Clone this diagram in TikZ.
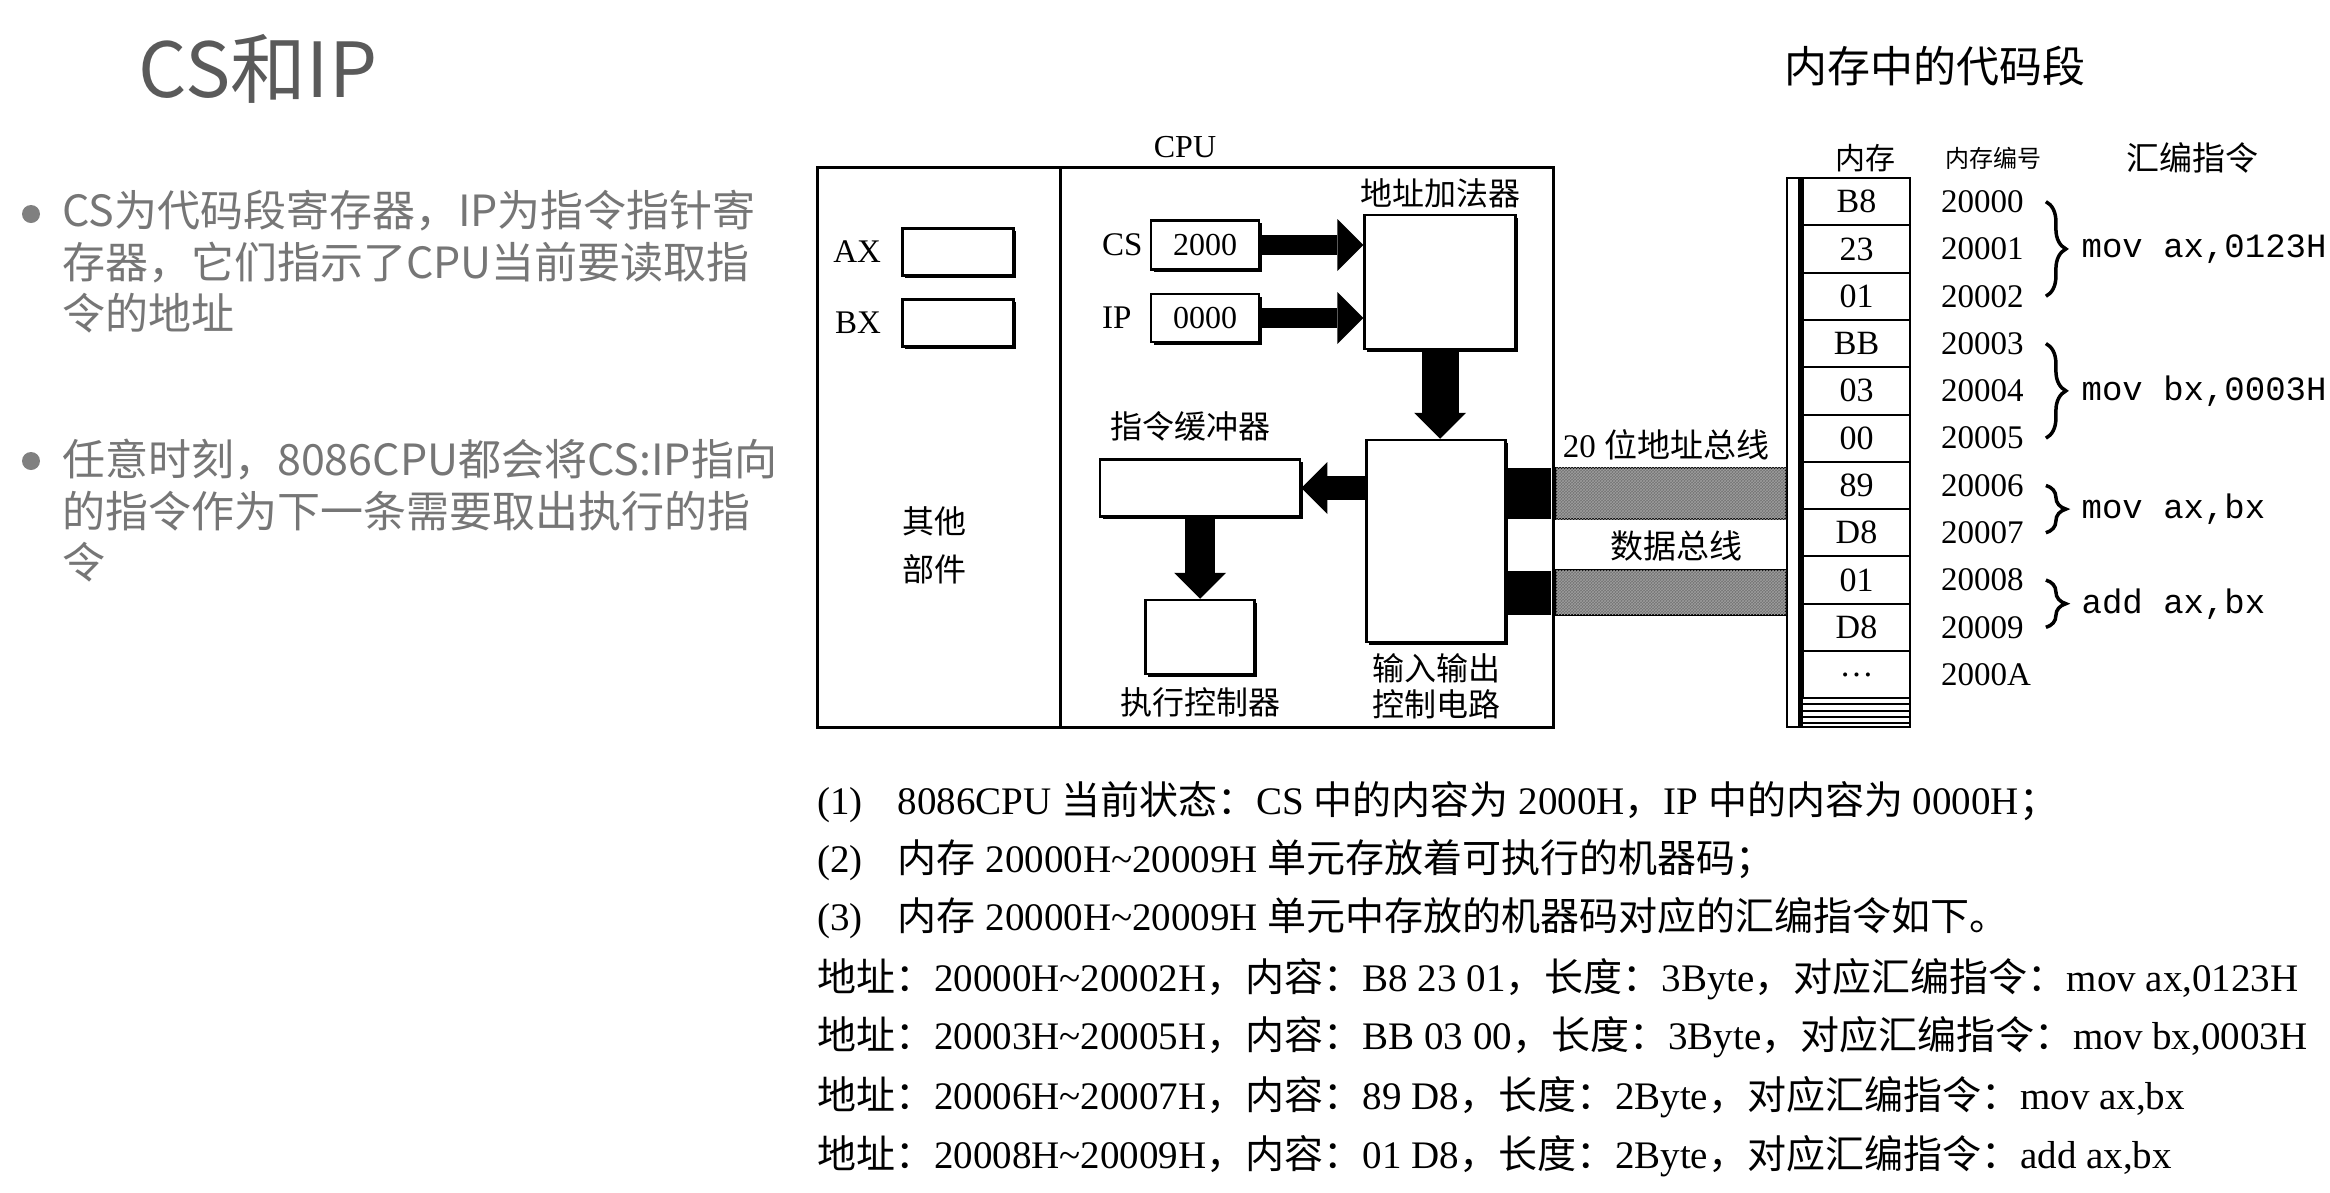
\documentclass[tikz,border=0pt]{standalone}
\usepackage{fontspec}
\setmainfont{Liberation Serif}
\newfontfamily\cjk{Noto Sans CJK SC}
\newfontfamily\codefont{Liberation Mono}
\usetikzlibrary{positioning,arrows.meta,decorations.pathreplacing,patterns,shadows}

\newcommand{\zh}[1]{{\cjk #1}}

\definecolor{titlegray}{RGB}{90,90,90}
\definecolor{bodygray}{RGB}{118,118,118}
\definecolor{dotgray}{RGB}{128,128,128}

\tikzset{
	lbl/.style={inner sep=0, font=\fontsize{33}{33}\selectfont},
	zhlbl/.style={inner sep=0, font=\cjk\fontsize{32}{36}\selectfont},
	regbox/.style={draw, line width=2.5pt, fill=white, inner sep=0, font=\fontsize{32}{32}\selectfont,
		drop shadow={shadow xshift=2.5pt, shadow yshift=-2.5pt, fill=black, opacity=1}},
	fatarrow/.style={line width=20pt, -{Triangle[length=26pt,width=52pt,line width=0pt]}},
	port/.style={fill=black, inner sep=0, minimum width=44pt},
	bus/.style={draw, line width=2pt, fill=black!55, postaction={pattern=crosshatch, pattern color=black!38}},
	memcell/.style={draw, line width=2pt, inner sep=0, minimum width=107pt, minimum height=47.3pt, font=\fontsize{34}{34}\selectfont},
	addr/.style={inner sep=0, font=\fontsize{33}{33}\selectfont},
	brc/.style={decorate, decoration={brace, amplitude=20pt}, line width=3.5pt},
	asm/.style={inner sep=0, font=\codefont\fontsize{34}{34}\selectfont},
	bulletdot/.style={circle, fill=dotgray, minimum size=18pt, inner sep=0},
	note/.style={anchor=north west, align=left, inner sep=0, text=bodygray, font=\cjk\fontsize{43}{51.5}\selectfont},
	txt/.style={anchor=west, inner sep=0, font=\fontsize{39}{39}\selectfont}
}

\begin{document}
\begin{tikzpicture}[x=1pt,y=-1pt]
	\useasboundingbox (0,0) rectangle (2330,1192);
	\fill[white] (0,0) rectangle (2330,1192);

	% Slide title and notes
	\node[inner sep=0, text=titlegray, font=\cjk\fontsize{76}{76}\selectfont] (title) at (258,69) {CS和IP};
	\node[bulletdot] (dot1) at (31,214) {};
	\node[note] (note1) at (62,190) {CS为代码段寄存器，IP为指令指针寄\\存器，它们指示了CPU当前要读取指\\令的地址};
	\node[bulletdot] (dot2) at (31,461) {};
	\node[note] (note2) at (62,439) {任意时刻，8086CPU都会将CS:IP指向\\的指令作为下一条需要取出执行的指\\令};

	% CPU frame
	\node[draw, line width=3pt, inner sep=0, minimum width=736pt, minimum height=560pt] (cpu) at (1185,447) {};
	\draw[line width=3pt] (1060,167) -- (1060,727);
	\node[lbl, above=7pt of cpu, font=\fontsize{32}{32}\selectfont] (cpulbl) {CPU};

	% General registers
	\node[regbox, minimum width=111pt, minimum height=47pt] (ax) at (958,252) {};
	\node[lbl, left=20pt of ax] (axlbl) {AX};
	\node[regbox, minimum width=111pt, minimum height=47pt] (bx) at (958,323) {};
	\node[lbl, left=20pt of bx] (bxlbl) {BX};
	\node[zhlbl, align=center, font=\cjk\fontsize{32}{48}\selectfont] (other) at (934,545) {其他\\部件};

	% Segment and pointer registers
	\node[regbox, minimum width=108pt, minimum height=49pt] (cs) at (1205,245) {2000};
	\node[lbl, anchor=west] (cslbl) at (1102,245) {CS};
	\node[regbox, minimum width=108pt, minimum height=48pt] (ip) at (1205,318) {0000};
	\node[lbl, anchor=west] (iplbl) at (1102,318) {IP};

	% Units
	\node[regbox, minimum width=151pt, minimum height=134pt] (adder) at (1440,282) {};
	\node[zhlbl, above=5pt of adder] (adderlbl) {地址加法器};
	\node[regbox, minimum width=139pt, minimum height=202pt] (io) at (1436,541) {};
	\node[zhlbl, below=10pt of io, align=center] (iolbl) {输入输出\\控制电路};
	\node[regbox, minimum width=200pt, minimum height=57pt] (buf) at (1200,488) {};
	\node[zhlbl] (buflbl) at (1190,426) {指令缓冲器};
	\node[regbox, minimum width=109pt, minimum height=74pt] (exec) at (1200,637) {};
	\node[zhlbl, below=12pt of exec] (execlbl) {执行控制器};

	% Data paths
	\draw[fatarrow] (cs.east) -- (adder.west |- cs.east);
	\draw[fatarrow] (ip.east) -- (adder.west |- ip.east);
	\draw[fatarrow, line width=37pt] (adder.south) -- (adder.south |- io.north);
	\draw[fatarrow, line width=24pt] (io.west |- buf.east) -- (buf.east);
	\draw[fatarrow, line width=30pt] (buf.south) -- (exec.north);

	% Memory column
	\node[draw, line width=2pt, inner sep=0, minimum width=123pt, minimum height=549pt] (mem) at (1848.5,452.5) {};
	\draw[line width=5pt] (1800.5,178) -- (1800.5,727);
	\foreach \v [count=\i] in {B8,23,01,BB,03,00,89,D8,01,D8,\dots}
		\node[memcell] (m\i) at (1856.5,{178+47.3*(\i-0.5)}) {\v};
	\foreach \y in {704,711,717,723}
		\draw[line width=1.5pt] (1803,\y) -- (1910,\y);
	\foreach \a [count=\i] in {20000,20001,20002,20003,20004,20005,20006,20007,20008,20009,2000A}
		\node[addr, right=30pt of m\i] (a\i) {\a};

	% Buses
	\node[port, minimum height=51pt] (aport) at (1529,493.5) {};
	\node[port, minimum height=44pt] (dport) at (1529,592.5) {};
	\draw[bus] ([xshift=1.5pt]cpu.east |- aport.north) rectangle (mem.west |- aport.south);
	\draw[bus] ([xshift=1.5pt]cpu.east |- dport.north) rectangle (mem.west |- dport.south);
	\node[lbl] (abuslbl) at (1666,445) {20 \zh{位地址总线}};
	\node[zhlbl, font=\cjk\fontsize{33}{33}\selectfont] (dbuslbl) at (1676,546) {数据总线};

	% Headers
	\node[inner sep=0, font=\cjk\fontsize{43}{43}\selectfont] (segtitle) at (1935,66) {内存中的代码段};
	\node[zhlbl, font=\cjk\fontsize{30}{30}\selectfont] (memhd) at (1865,158) {内存};
	\node[zhlbl, font=\cjk\fontsize{24}{24}\selectfont] (addrhd) at (1993,158) {内存编号};
	\node[zhlbl, font=\cjk\fontsize{33}{33}\selectfont] (asmhd) at (2192,158) {汇编指令};

	% Instructions
	\draw[brc] ([xshift=22pt]a1.east) -- ([xshift=22pt]a3.east) node[asm, midway, right=34pt] (i1) {mov ax,0123H};
	\draw[brc] ([xshift=22pt]a4.east) -- ([xshift=22pt]a6.east) node[asm, midway, right=34pt] (i2) {mov bx,0003H};
	\draw[brc] ([xshift=22pt]a7.east) -- ([xshift=22pt]a8.east) node[asm, midway, right=34pt] (i3) {mov ax,bx};
	\draw[brc] ([xshift=22pt]a9.east) -- ([xshift=22pt]a10.east) node[asm, midway, right=34pt] (i4) {add ax,bx};

	% Explanation
	\node[txt] (l1) at (817,802) {(1)\hspace{0.9em}8086CPU \zh{当前状态：}CS \zh{中的内容为} 2000H\zh{，}IP \zh{中的内容为} 0000H\zh{；}};
	\node[txt] (l2) at (817,860) {(2)\hspace{0.9em}\zh{内存} 20000H\textasciitilde 20009H \zh{单元存放着可执行的机器码；}};
	\node[txt] (l3) at (817,918) {(3)\hspace{0.9em}\zh{内存} 20000H\textasciitilde 20009H \zh{单元中存放的机器码对应的汇编指令如下。}};
	\node[txt] (l4) at (817,979) {\zh{地址：}20000H\textasciitilde 20002H\zh{，内容：}B8 23 01\zh{，长度：}3Byte\zh{，对应汇编指令：}mov ax,0123H};
	\node[txt] (l5) at (817,1037) {\zh{地址：}20003H\textasciitilde 20005H\zh{，内容：}BB 03 00\zh{，长度：}3Byte\zh{，对应汇编指令：}mov bx,0003H};
	\node[txt] (l6) at (817,1097) {\zh{地址：}20006H\textasciitilde 20007H\zh{，内容：}89 D8\zh{，长度：}2Byte\zh{，对应汇编指令：}mov ax,bx};
	\node[txt] (l7) at (817,1156) {\zh{地址：}20008H\textasciitilde 20009H\zh{，内容：}01 D8\zh{，长度：}2Byte\zh{，对应汇编指令：}add ax,bx};
\end{tikzpicture}
\end{document}
